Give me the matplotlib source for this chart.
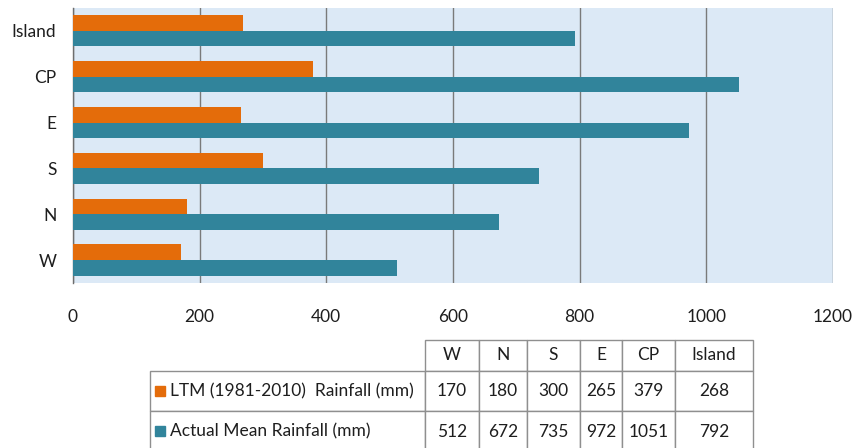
import numpy as np
import matplotlib
matplotlib.use('Agg')
import matplotlib.pyplot as plt
from matplotlib.patches import Rectangle

plt.rcParams['font.family'] = ['Lato', 'DejaVu Sans']

# data, bottom-to-top order in the chart = table column order
regions = ['W', 'N', 'S', 'E', 'CP', 'Island']
ltm_rain = [170, 180, 300, 265, 379, 268]
actual_rain = [512, 672, 735, 972, 1051, 792]
series_names = ['LTM (1981-2010)  Rainfall (mm)', 'Actual Mean Rainfall (mm)']
xticks = [0, 200, 400, 600, 800, 1000, 1200]

ORANGE = '#E46C0A'
TEAL = '#31849B'
TXT = '#1e1e1e'
FS = 12.5
W, H = 856, 448


def fig_rect(x0, y0, x1, y1):
    # pixel box (top-left origin) -> figure fraction
    return [x0 / W, 1 - y1 / H, (x1 - x0) / W, (y1 - y0) / H]


fig = plt.figure(figsize=(8.56, 4.48), dpi=100)

ax = fig.add_axes(fig_rect(73, 8, 833, 283))
ax.set_facecolor('#dce9f6')
y = np.arange(len(regions))
bh = 0.34
ax.barh(y + bh / 2, ltm_rain, height=bh, color=ORANGE, zorder=3)
ax.barh(y - bh / 2, actual_rain, height=bh, color=TEAL, zorder=3)

ax.set_xlim(0, 1200)
ax.set_ylim(-0.5, len(regions) - 0.5)
ax.set_xticks(xticks)
ax.set_yticks(y)
ax.set_yticklabels(regions)
ax.grid(axis='x', color='#7a7a7a', linewidth=1.0, zorder=1)
ax.grid(axis='y', visible=False)
for s in ['top', 'right', 'bottom']:
    ax.spines[s].set_visible(False)
ax.spines['left'].set_color('#6e6e6e')
ax.spines['left'].set_linewidth(1.0)
ax.tick_params(axis='x', length=0, pad=19, labelsize=FS, labelcolor=TXT)
ax.tick_params(axis='y', length=0, pad=12, labelsize=FS, labelcolor=TXT)

# data table under the chart
tab = fig.add_axes(fig_rect(150, 340, 753, 452))
tab.set_xlim(150, 753)
tab.set_ylim(452, 340)
tab.axis('off')

col_px = [275, 54, 48, 53, 42, 53, 78]
row_px = [31, 40, 41]
cells = [[''] + regions,
         [series_names[0]] + [str(v) for v in ltm_rain],
         [series_names[1]] + [str(v) for v in actual_rain]]
table = tab.table(cellText=cells, colWidths=[c / sum(col_px) for c in col_px],
                  cellLoc='center', bbox=[0, 0, 1, 1])
table.auto_set_font_size(False)
for (r, c), cell in table.get_celld().items():
    cell.set_height(row_px[r] / sum(row_px))
    cell.set_edgecolor('#8f8f8f')
    cell.set_linewidth(1.0)
    cell.get_text().set_fontsize(FS)
    cell.get_text().set_color(TXT)
    if c == 0:
        cell.get_text().set_horizontalalignment('left')
        cell.PAD = 0.072
    if r == 0 and c == 0:
        cell.visible_edges = ''

# legend keys in the row labels
y_top = 340 + row_px[0]
for color, rh in zip([ORANGE, TEAL], row_px[1:]):
    yc = y_top + rh / 2
    tab.add_patch(Rectangle((155, yc - 5), 10, 10, color=color, clip_on=False))
    y_top += rh

fig.savefig('out.png', dpi=100, facecolor='white')
